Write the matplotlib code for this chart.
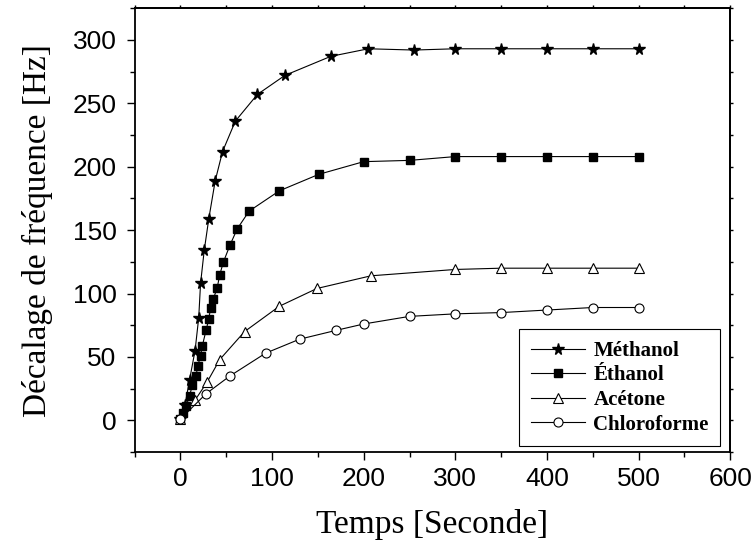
import matplotlib
matplotlib.use("Agg")
import matplotlib.pyplot as plt

t_meth = [0, 5, 10, 16, 20, 22, 26, 31, 38, 46, 60, 84, 114, 164, 205, 255, 300, 350, 400, 450, 500]
f_meth = [1, 12, 32, 55, 81, 108, 134, 159, 189, 212, 236, 257, 272, 287, 293, 292, 293, 293, 293, 293, 293]

t_eth = [0, 3, 6, 10, 13, 17, 19, 22, 24, 28, 31, 33, 36, 40, 43, 47, 54, 62, 75, 108, 151, 200, 250, 300, 350, 400, 450, 500]
f_eth = [1, 6, 11, 19, 28, 35, 43, 51, 59, 71, 80, 89, 96, 104, 115, 125, 138, 151, 165, 181, 194, 204, 205, 208, 208, 208, 208, 208]

t_ace = [0, 16, 29, 43, 70, 108, 149, 208, 300, 350, 400, 450, 500]
f_ace = [1, 16, 30, 48, 70, 90, 104, 114, 119, 120, 120, 120, 120]

t_chl = [0, 28, 54, 93, 130, 170, 200, 250, 300, 350, 400, 450, 500]
f_chl = [1, 21, 35, 53, 64, 71, 76, 82, 84, 85, 87, 89, 89]

labels = ["Méthanol", "Éthanol", "Acétone", "Chloroforme"]

fig = plt.figure(figsize=(7.56, 5.46), dpi=100)
ax = fig.add_axes([0.178, 0.172, 0.788, 0.813])

ax.plot(t_meth, f_meth, color="black", lw=0.8, marker="*", ms=8.5, mfc="black", mec="black", label=labels[0])
ax.plot(t_eth, f_eth, color="black", lw=0.8, marker="s", ms=5.5, mfc="black", mec="black", label=labels[1])
ax.plot(t_ace, f_ace, color="black", lw=0.8, marker="^", ms=7.5, mfc="white", mec="black", mew=0.8, label=labels[2])
ax.plot(t_chl, f_chl, color="black", lw=0.8, marker="o", ms=6.5, mfc="white", mec="black", mew=0.8, label=labels[3])

ax.set_xlim(-50, 600)
ax.set_ylim(-25, 325)
ax.set_xticks(range(0, 601, 100))
ax.set_xticks(range(-50, 601, 50), minor=True)
ax.set_yticks(range(0, 301, 50))
ax.set_yticks(range(-25, 326, 25), minor=True)

for lab in ax.get_xticklabels() + ax.get_yticklabels():
    lab.set_family("Liberation Sans")
    lab.set_fontsize(19)

ax.tick_params(which="both", direction="out", width=1, top=False, right=False)
ax.tick_params(which="major", length=6, pad=7)
ax.tick_params(which="minor", length=3.5)
ax.tick_params(axis="x", which="major", pad=5)
ax2 = ax.secondary_xaxis("top")
ax2.set_xticks(range(-50, 601, 50))
ax2.tick_params(direction="out", length=2, width=1, labeltop=False)
ax3 = ax.secondary_yaxis("right")
ax3.set_yticks(range(-25, 326, 25))
ax3.tick_params(direction="out", length=2, width=1, labelright=False)
for a in (ax, ax2, ax3):
    for s in a.spines.values():
        s.set_linewidth(1.3)

ax.set_xlabel("Temps [Seconde]", family="Liberation Serif", fontsize=24, labelpad=13)
ax.set_ylabel("Décalage de fréquence [Hz]", family="Liberation Serif", fontsize=24, labelpad=14)

leg = ax.legend(loc="lower right", bbox_to_anchor=(0.983, 0.0135), borderaxespad=0,
                prop={"family": "Liberation Serif", "weight": "bold", "size": 15},
                fancybox=False, edgecolor="black", framealpha=1, handlelength=2.6,
                handletextpad=0.4, labelspacing=0.22, borderpad=0.55)
leg.get_frame().set_linewidth(0.8)

fig.savefig("out.png", dpi=100)
